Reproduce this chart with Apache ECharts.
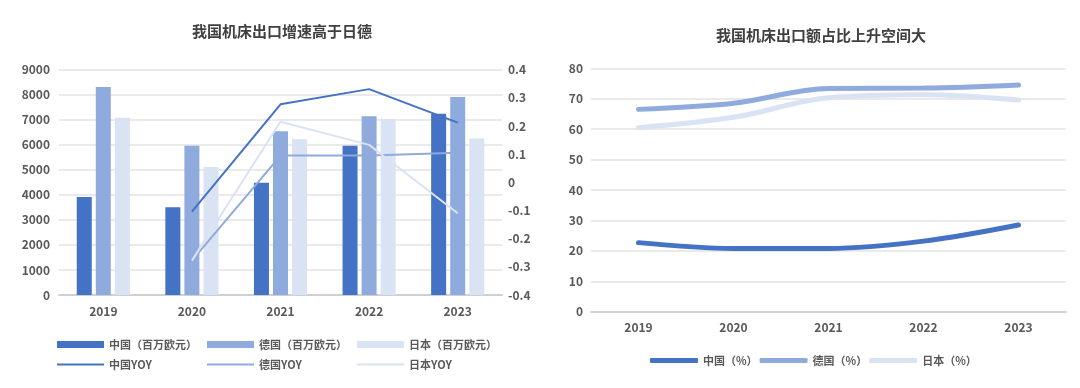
<!DOCTYPE html>
<html><head><meta charset="utf-8">
<script src="https://cdn.jsdelivr.net/npm/echarts@6/dist/echarts.min.js"></script>
<style>html,body{margin:0;padding:0;background:#fff}#c{width:1080px;height:388px}</style>
</head><body><div id="c"></div>
<script>
const years = ['2019','2020','2021','2022','2023'];
const chinaExport = [3915, 3510, 4487, 5965, 7245];
const germanyExport = [8310, 5965, 6540, 7139, 7910];
const japanExport = [7085, 5114, 6220, 7031, 6250];
const chinaYoy = [null, -0.104, 0.277, 0.331, 0.212];
const germanyYoy = [null, -0.278, 0.095, 0.095, 0.105];
const japanYoy = [null, -0.278, 0.215, 0.133, -0.110];
const chinaShare = [22.7, 20.8, 20.8, 23.2, 28.5];
const germanyShare = [66.5, 68.5, 73.4, 73.5, 74.5];
const japanShare = [60.5, 63.9, 70.3, 71.3, 69.6];
const leftTicks = [0, 9000, 1000];
const rightTicks = [-0.4, 0.4, 0.1];
const shareTicks = [0, 80, 10];

const C1 = '#4472C4', C2 = '#8FAADC', C3 = '#DAE3F3';
const FONT = '"Noto Sans CJK SC", "Noto Sans", sans-serif';
const TXT = '#595959';
const axisLabel = {color: TXT, fontSize: 12, fontWeight: 'bold', fontFamily: FONT};
const legendText = {color: TXT, fontSize: 11, fontWeight: 'bold', fontFamily: FONT};
const gridLine = {show: true, lineStyle: {color: '#E3E3E3', width: 1.5}};

function lg(name, left, top, w, h) {
  return {data: [{name: name, icon: 'rect'}], left: left, top: top, itemWidth: w, itemHeight: h, itemGap: 0,
    textStyle: legendText, padding: 0, selectedMode: false};
}

const chart = echarts.init(document.getElementById('c'), null, {renderer: 'canvas'});
chart.setOption({
  animation: false,
  textStyle: {fontFamily: FONT},
  title: [
    {text: '我国机床出口增速高于日德', left: 277, top: 19, textAlign: 'center',
      textStyle: {color: '#404040', fontSize: 15, fontWeight: 'bold', fontFamily: FONT}},
    {text: '我国机床出口额占比上升空间大', left: 816, top: 23, textAlign: 'center',
      textStyle: {color: '#404040', fontSize: 15, fontWeight: 'bold', fontFamily: FONT}}
  ],
  legend: [
    lg('中国（百万欧元）', 57, 339, 47, 7),
    lg('德国（百万欧元）', 207, 339, 47, 7),
    lg('日本（百万欧元）', 357, 339, 47, 7),
    lg('中国YOY', 57, 359, 47, 2),
    lg('德国YOY', 207, 359, 47, 2),
    lg('日本YOY', 357, 359, 47, 2),
    {data: [{name: '中国（%）', icon: 'roundRect'}, {name: '德国（%）', icon: 'roundRect'}, {name: '日本（%）', icon: 'roundRect'}],
      left: 650, top: 355, itemWidth: 48, itemHeight: 5,
      itemGap: 2, textStyle: legendText, padding: 0, selectedMode: false}
  ],
  grid: [
    {left: 59, right: 578, top: 69.7, bottom: 93},
    {left: 591, right: 14, top: 68.3, bottom: 76.3}
  ],
  xAxis: [
    {type: 'category', gridIndex: 0, data: years, axisTick: {show: false},
      axisLine: {lineStyle: {color: '#D0D0D0', width: 2}}, axisLabel: Object.assign({margin: 10}, axisLabel)},
    {type: 'category', gridIndex: 1, data: years, axisTick: {show: false},
      axisLine: {lineStyle: {color: '#D0D0D0', width: 2}}, axisLabel: Object.assign({margin: 10}, axisLabel)}
  ],
  yAxis: [
    {type: 'value', gridIndex: 0, min: leftTicks[0], max: leftTicks[1], interval: leftTicks[2],
      axisLine: {show: false}, axisTick: {show: false}, splitLine: gridLine,
      axisLabel: Object.assign({margin: 9, formatter: v => String(v)}, axisLabel)},
    {type: 'value', gridIndex: 0, position: 'right', min: rightTicks[0], max: rightTicks[1], interval: rightTicks[2],
      axisLine: {show: false}, axisTick: {show: false}, splitLine: {show: false},
      axisLabel: Object.assign({margin: 6, formatter: v => String(Math.round(v * 10) / 10)}, axisLabel)},
    {type: 'value', gridIndex: 1, min: shareTicks[0], max: shareTicks[1], interval: shareTicks[2],
      axisLine: {show: false}, axisTick: {show: false}, splitLine: gridLine,
      axisLabel: Object.assign({margin: 8}, axisLabel)}
  ],
  series: [
    {name: '中国（百万欧元）', type: 'bar', xAxisIndex: 0, yAxisIndex: 0, data: chinaExport, barWidth: 15, barGap: '27%', itemStyle: {color: C1}},
    {name: '德国（百万欧元）', type: 'bar', xAxisIndex: 0, yAxisIndex: 0, data: germanyExport, barWidth: 15, barGap: '27%', itemStyle: {color: C2}},
    {name: '日本（百万欧元）', type: 'bar', xAxisIndex: 0, yAxisIndex: 0, data: japanExport, barWidth: 15, barGap: '27%', itemStyle: {color: C3}},
    {name: '中国YOY', type: 'line', xAxisIndex: 0, yAxisIndex: 1, data: chinaYoy, symbol: 'none', lineStyle: {color: C1, width: 2}, itemStyle: {color: C1}, z: 5},
    {name: '德国YOY', type: 'line', xAxisIndex: 0, yAxisIndex: 1, data: germanyYoy, symbol: 'none', lineStyle: {color: C2, width: 2}, itemStyle: {color: C2}, z: 5},
    {name: '日本YOY', type: 'line', xAxisIndex: 0, yAxisIndex: 1, data: japanYoy, symbol: 'none', lineStyle: {color: C3, width: 2}, itemStyle: {color: C3}, z: 5},
    {name: '中国（%）', type: 'line', xAxisIndex: 1, yAxisIndex: 2, data: chinaShare, symbol: 'none', smooth: 0.35, lineStyle: {color: C1, width: 5, cap: 'round'}, itemStyle: {color: C1}, z: 5},
    {name: '德国（%）', type: 'line', xAxisIndex: 1, yAxisIndex: 2, data: germanyShare, symbol: 'none', smooth: 0.35, lineStyle: {color: C2, width: 5, cap: 'round'}, itemStyle: {color: C2}, z: 4},
    {name: '日本（%）', type: 'line', xAxisIndex: 1, yAxisIndex: 2, data: japanShare, symbol: 'none', smooth: 0.35, lineStyle: {color: C3, width: 5, cap: 'round'}, itemStyle: {color: C3}, z: 3}
  ]
});
</script></body></html>
